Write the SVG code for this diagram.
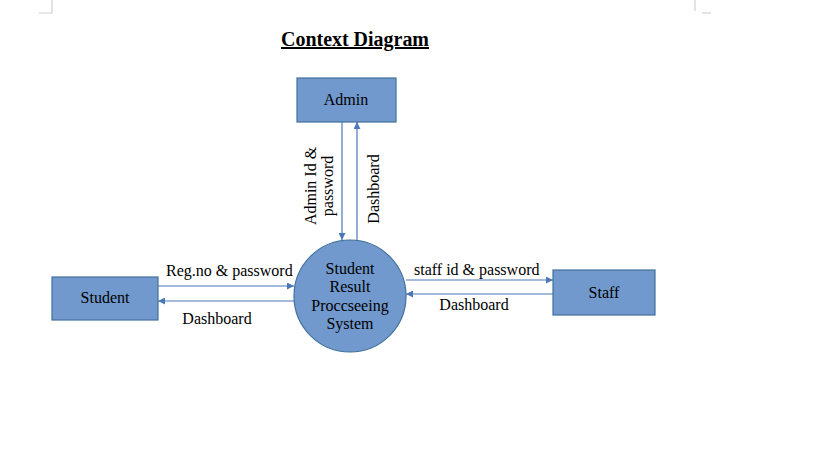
<svg xmlns="http://www.w3.org/2000/svg" width="819" height="460" viewBox="0 0 819 460">
<style>
.box{fill:#7199cd;stroke:#41719c;stroke-width:1.2}
.t{font-family:"Liberation Serif","Times New Roman",serif;font-size:16px;fill:#000}
.c{text-anchor:middle}
.ln{stroke:#4a78b8;stroke-width:1.2;fill:none}
.mark{stroke:#d0d0d0;stroke-width:1.2;fill:none}
</style>
<defs>
<marker id="ah" viewBox="0 0 10 10" refX="10" refY="5" markerWidth="7" markerHeight="7" orient="auto" markerUnits="userSpaceOnUse">
<path d="M0,0 L10,5 L0,10 z" fill="#4a78b8"/>
</marker>
</defs>
<rect width="819" height="460" fill="#fff"/>
<g id="page-marks">
<path class="mark" d="M52,0 V13 H39"/>
<path class="mark" d="M695,0 V11"/>
<path class="mark" d="M702,13 H711"/>
</g>
<g id="title">
<text x="355" y="46" class="t c" style="font-size:20px;font-weight:bold;text-decoration:underline" textLength="148" lengthAdjust="spacingAndGlyphs">Context Diagram</text>
</g>
<g id="connectors">
<line class="ln" x1="342" y1="122" x2="342" y2="240" marker-end="url(#ah)"/>
<line class="ln" x1="357" y1="241" x2="357" y2="122" marker-end="url(#ah)"/>
<line class="ln" x1="158" y1="286" x2="294" y2="286" marker-end="url(#ah)"/>
<line class="ln" x1="295" y1="301" x2="158" y2="301" marker-end="url(#ah)"/>
<line class="ln" x1="406" y1="280" x2="553" y2="280" marker-end="url(#ah)"/>
<line class="ln" x1="553" y1="294" x2="406" y2="294" marker-end="url(#ah)"/>
<text class="t c" transform="translate(316,186) rotate(-90)">Admin Id &amp;</text>
<text class="t c" transform="translate(333,186) rotate(-90)">password</text>
<text class="t c" transform="translate(379,189) rotate(-90)">Dashboard</text>
<text class="t" x="166" y="276">Reg.no &amp; password</text>
<text class="t c" x="217" y="324">Dashboard</text>
<text class="t" x="414" y="275">staff id &amp; password</text>
<text class="t c" x="474" y="310">Dashboard</text>
</g>
<g id="admin">
<rect class="box" x="297" y="78" width="99" height="44"/>
<text class="t c" x="346" y="105">Admin</text>
</g>
<g id="student">
<rect class="box" x="52" y="277" width="106" height="43"/>
<text class="t c" x="105" y="303">Student</text>
</g>
<g id="staff">
<rect class="box" x="553" y="270" width="102" height="45"/>
<text class="t c" x="604" y="298">Staff</text>
</g>
<g id="system">
<circle class="box" cx="350" cy="296" r="56"/>
<text class="t c" x="350" y="274">Student</text>
<text class="t c" x="350" y="292">Result</text>
<text class="t c" x="350" y="311">Proccseeing</text>
<text class="t c" x="350" y="329">System</text>
</g>
</svg>
